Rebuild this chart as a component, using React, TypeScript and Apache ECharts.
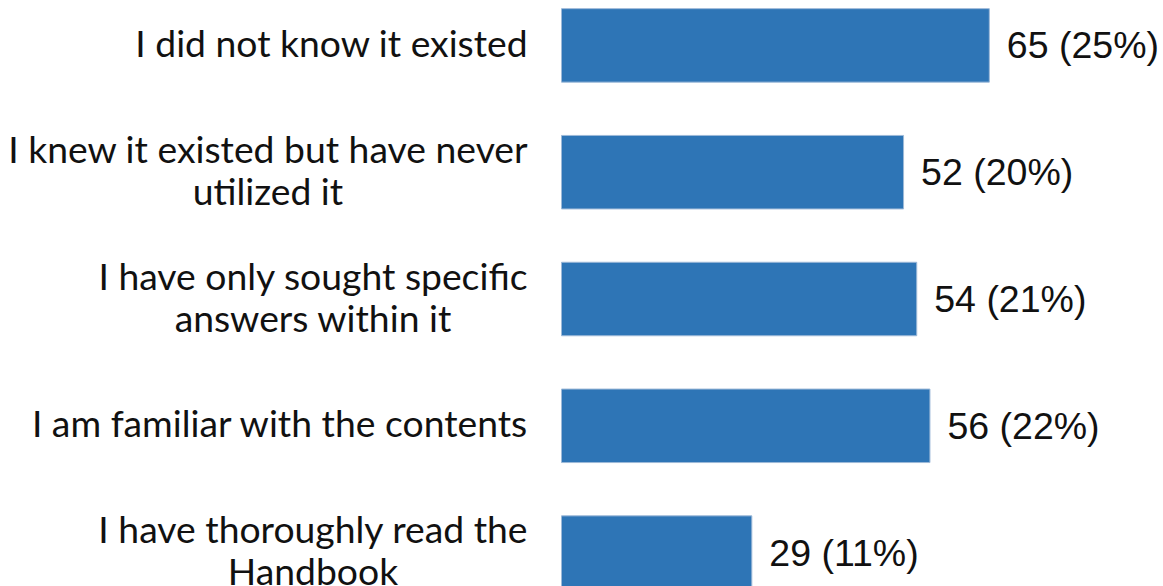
import React, { useEffect, useRef } from "react";
import * as echarts from "echarts";

const categories: string[] = [
  "I did not know it existed",
  "I knew it existed but have never\nutilized it",
  "I have only sought specific\nanswers within it",
  "I am familiar with the contents",
  "I have thoroughly read the\nHandbook",
];
const counts: number[] = [65, 52, 54, 56, 29];
const percents: number[] = [25, 20, 21, 22, 11];

export default function App() {
  const ref = useRef<HTMLDivElement>(null);
  useEffect(() => {
    if (!ref.current) return;
    const chart = echarts.init(ref.current, undefined, { renderer: "svg" });
    chart.setOption({
      animation: false,
      backgroundColor: "#ffffff",
      grid: { left: 561, right: 140.2, top: 0, bottom: 0, containLabel: false },
      xAxis: {
        type: "value",
        min: 0,
        max: 70,
        show: false,
        splitLine: { show: false },
      },
      yAxis: {
        type: "category",
        inverse: true,
        data: categories,
        axisLine: { show: false },
        axisTick: { show: false },
        axisLabel: {
          margin: 33,
          align: "right",
          padding: [0, 0, 6, 0],
          formatter: (v: string) =>
            v.split("\n").map((l) => `{c|${l}}`).join("\n"),
          rich: {
            c: {
              align: "center",
              fontFamily: "Lato",
              fontSize: 37.3,
              lineHeight: 42,
              color: "#111111",
            },
          },
        },
      },
      series: [
        {
          type: "bar",
          data: counts,
          barWidth: 74.5,
          itemStyle: { color: "#2E75B6", borderColor: "#9DB9D8", borderWidth: 1 },
          label: {
            show: true,
            position: "right",
            distance: 17,
            fontFamily: "Liberation Sans",
            fontSize: 37.5,
            color: "#111111",
            formatter: (p: any) => `${counts[p.dataIndex]} (${percents[p.dataIndex]}%)`,
          },
        },
      ],
    });
    return () => chart.dispose();
  }, []);
  return (
    <div
      ref={ref}
      style={{ position: "fixed", left: 0, top: -18.5, width: 1163, height: 633.5 }}
    />
  );
}
